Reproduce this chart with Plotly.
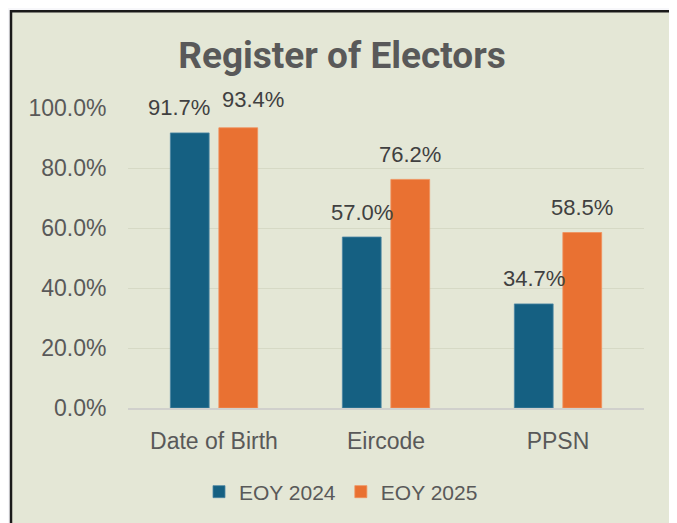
import plotly.graph_objects as go

categories = ["Date of Birth", "Eircode", "PPSN"]
eoy_2024 = [91.7, 57.0, 34.7]
eoy_2025 = [93.4, 76.2, 58.5]
series_names = ["EOY 2024", "EOY 2025"]
y_ticks = [0, 20, 40, 60, 80, 100]
y_tick_labels = ["0.0%", "20.0%", "40.0%", "60.0%", "80.0%", "100.0%"]

# page body has an 8px margin; design in window pixels and offset
OFF = 8
W, H = 677 - OFF, 523 - OFF
PLOT_L, PLOT_R, PLOT_T, PLOT_B = 128, 644, 108, 409  # window pixels
L, T = PLOT_L - OFF, PLOT_T - OFF
R = W - (PLOT_R - OFF)
B = H - (PLOT_B - OFF)
PW, PH = PLOT_R - PLOT_L, PLOT_B - PLOT_T

def px(x):
    return (x - PLOT_L) / PW

def py(y):
    return (PLOT_B - y) / PH

BLUE = "#156082"
ORANGE = "#E97132"
TEXT = "#595959"
LABEL = "#404040"
FONT = "Liberation Sans, Arial, sans-serif"

fig = go.Figure()
fig.add_trace(go.Bar(name=series_names[0], x=categories, y=eoy_2024, marker_color=BLUE,
                     marker_line=dict(color="#4d86a3", width=0.8)))
fig.add_trace(go.Bar(name=series_names[1], x=categories, y=eoy_2025, marker_color=ORANGE,
                     marker_line=dict(color="#f0905c", width=0.8)))

# data labels (Excel-style placement; the first group's labels are nudged apart)
label_nudge = {(0, 0): (-11, 25), (1, 0): (15, 28)}
slot = (1 - 0.436) / 2
for si, vals in enumerate([eoy_2024, eoy_2025]):
    for ci, v in enumerate(vals):
        off = (-0.5 + si) * slot
        dx, dy = label_nudge.get((si, ci), (0, 25))
        fig.add_annotation(x=ci + off, y=v, xref="x", yref="y", text=f"{v:.1f}%",
                           showarrow=False, yanchor="middle", yshift=dy, xshift=dx,
                           font=dict(family=FONT, size=22, color=LABEL))

# chart box
fig.add_shape(type="rect", xref="paper", yref="paper", layer="below",
              x0=px(11), x1=px(672), y0=py(545), y1=py(11),
              fillcolor="#e4e7d6", line=dict(color="#1a1a1a", width=2.5))

fig.update_layout(
    width=W, height=H,
    margin=dict(l=L, r=R, t=T, b=B, pad=0),
    paper_bgcolor="#f7f7fa",
    plot_bgcolor="rgba(0,0,0,0)",
    barmode="group", bargap=0.436, bargroupgap=0.2,
    title=dict(text="<b>Register of Electors</b>", x=px(342), xanchor="center", xref="paper",
               y=1 - (55 - OFF) / H, yanchor="middle", yref="container",
               font=dict(family="Roboto, Arial, sans-serif", size=37, color=TEXT)),
    font=dict(family=FONT, color=TEXT),
    showlegend=True,
    legend=dict(orientation="h", x=px(341), xanchor="center", y=py(492), yanchor="middle",
                font=dict(family=FONT, size=21, color=TEXT), bgcolor="rgba(0,0,0,0)",
                itemwidth=30, traceorder="normal"),
    xaxis=dict(showgrid=False, showline=True, linecolor="#d0d0cc", linewidth=2,
               ticks="outside", ticklen=11, tickcolor="rgba(0,0,0,0)",
               tickfont=dict(family=FONT, size=23, color=TEXT)),
    yaxis=dict(range=[0, 100], tickvals=y_ticks, ticktext=y_tick_labels,
               showgrid=True, gridcolor="#d6d9c5", gridwidth=1, zeroline=False,
               showline=False, ticks="outside", ticklen=16, tickcolor="rgba(0,0,0,0)",
               tickfont=dict(family=FONT, size=23, color=TEXT)),
)

fig.write_html("out.html")
